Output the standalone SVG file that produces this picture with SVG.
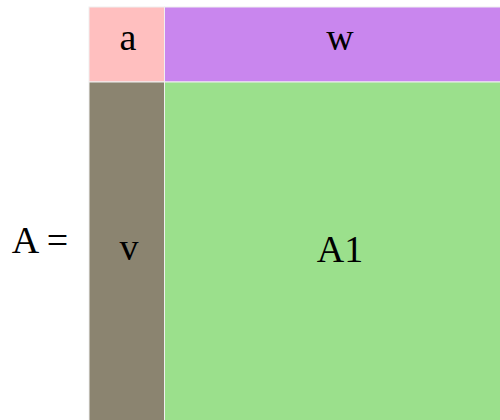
<svg xmlns="http://www.w3.org/2000/svg" width="500" height="420" viewBox="0 0 500 420">
<style>
.t{font-family:"Liberation Serif","Times New Roman",serif;fill:#000;text-anchor:middle;font-size:38px}
.cell{stroke:#f0f0f0;stroke-width:1}
</style>
<rect width="500" height="420" fill="#fff"/>
<g id="label"><text class="t" x="40" y="253">A =</text></g>
<g id="a"><rect class="cell" x="89" y="7" width="75.5" height="75" fill="#FFBFBF"/><text class="t" x="128" y="50">a</text></g>
<g id="w"><rect class="cell" x="164.5" y="7" width="336" height="75" fill="#C986EE"/><text class="t" x="340" y="50">w</text></g>
<g id="v"><rect class="cell" x="89" y="82" width="75.5" height="339" fill="#8B8470"/><text class="t" x="129" y="260">v</text></g>
<g id="A1"><rect class="cell" x="164.5" y="82" width="336" height="339" fill="#9BE08C"/><text class="t" x="340" y="262">A1</text></g>
<g id="connectors"></g>
</svg>
